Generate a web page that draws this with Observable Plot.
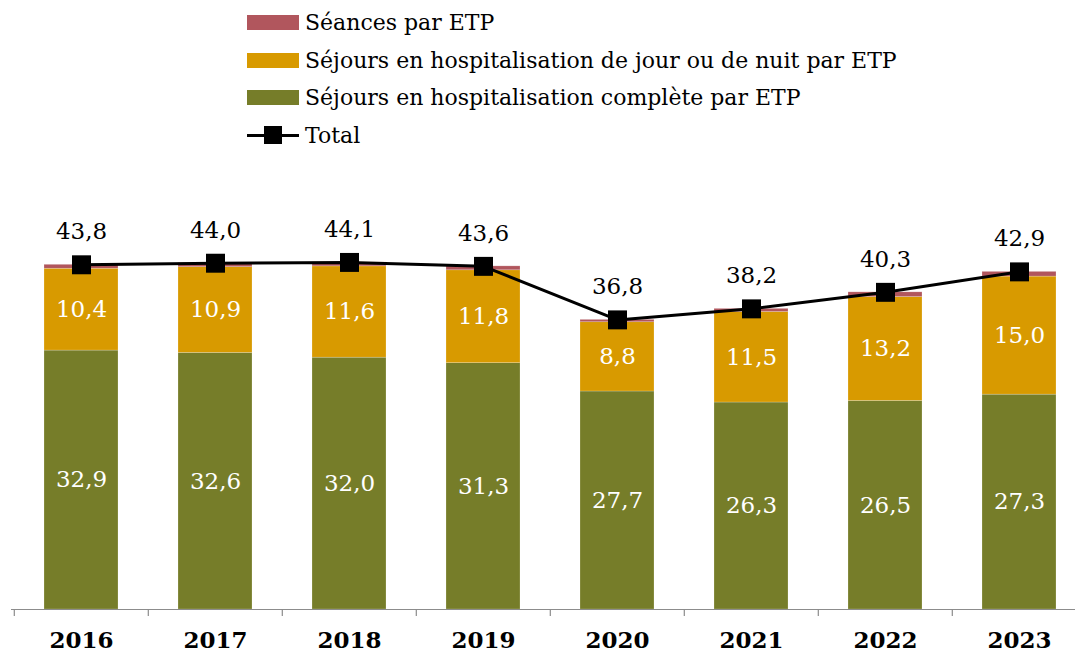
<!DOCTYPE html>
<html><head><meta charset="utf-8">
<script src="https://cdn.jsdelivr.net/npm/d3@7"></script>
<script src="https://cdn.jsdelivr.net/npm/@observablehq/plot@0.6"></script>
<style>
body{margin:0;background:#fff;}
#wrap{position:relative;width:1075px;height:655px;font-family:"DejaVu Serif",serif;overflow:hidden;}
#chart{position:absolute;left:0;top:0;}
#legend{position:absolute;left:247px;top:0;}
.item{position:absolute;left:0;height:30px;display:flex;align-items:center;white-space:nowrap;font-size:22px;color:#000;}
.sw{width:52px;height:15px;margin-right:6px;flex:none;}
.ln{width:52px;height:18px;margin-right:6px;flex:none;position:relative;}
.ln .l{position:absolute;left:0;right:0;top:7.5px;height:3px;background:#000;}
.ln .m{position:absolute;left:17px;top:0;width:18px;height:18px;background:#000;}
</style></head><body>
<div id="wrap"><div id="chart"></div><div id="legend"></div></div>
<script>
const years = ["2016","2017","2018","2019","2020","2021","2022","2023"];
const seances = [0.5,0.5,0.5,0.5,0.3,0.4,0.6,0.6];
const jourNuit = [10.4,10.9,11.6,11.8,8.8,11.5,13.2,15.0];
const complete = [32.9,32.6,32.0,31.3,27.7,26.3,26.5,27.3];
const total = [43.8,44.0,44.1,43.6,36.8,38.2,40.3,42.9];
const seriesNames = ["Séances par ETP","Séjours en hospitalisation de jour ou de nuit par ETP","Séjours en hospitalisation complète par ETP"];
const seriesColors = ["#B1565D","#D89A00","#767D29"];
const totalName = "Total";

const fmt = v => d3.format(".1f")(v).replace(".", ",");

// stacked data: bottom to top
const stacked = years.flatMap((y,i)=>[
  {year:y, series:seriesNames[2], value:complete[i]},
  {year:y, series:seriesNames[1], value:jourNuit[i]},
  {year:y, series:seriesNames[0], value:seances[i]}
]);
const segLabels = years.flatMap((y,i)=>[
  {year:y, mid:complete[i]/2, v:complete[i]},
  {year:y, mid:complete[i]+jourNuit[i]/2, v:jourNuit[i]}
]);
const totals = years.map((y,i)=>({year:y, total:total[i]}));

const W = 1075, H = 655;
const chart = Plot.plot({
  width: W, height: H,
  marginTop: 215.5, marginBottom: 46, marginLeft: 11, marginRight: -13,
  style: {fontFamily: '"DejaVu Serif", serif', background: "transparent", overflow: "visible"},
  x: {domain: years, paddingInner: 0.45, paddingOuter: 0.225, label: null},
  y: {domain: [0, 50], axis: null},
  color: {domain: seriesNames, range: seriesColors},
  marks: [
    Plot.barY(stacked, {x: "year", y: "value", fill: "series", order: null, stroke: "#fff", strokeOpacity: 0.35, strokeWidth: 0.6}),
    Plot.ruleY([0], {stroke: "#8c8c8c", strokeWidth: 1.2}),
    Plot.axisX({tickSize: 7, dx: -67.2, stroke: "#8c8c8c", strokeWidth: 1.2, text: null, label: null}),
    Plot.axisX({tickSize: 0, tickPadding: 22, fontSize: 23, fontWeight: "bold", fill: "#000", label: null}),
    Plot.text(segLabels, {x: "year", y: "mid", text: d => fmt(d.v), fill: "#fff", fontSize: 23}),
    Plot.line(totals, {x: "year", y: "total", stroke: "#000", strokeWidth: 3}),
    Plot.dot(totals, {x: "year", y: "total", symbol: "square", r: 10.7, fill: "#000", stroke: "none"}),
    Plot.text(totals, {x: "year", y: "total", text: d => fmt(d.total), dy: -33, fill: "#000", fontSize: 23})
  ]
});
document.getElementById("chart").appendChild(chart);

const legend = document.getElementById("legend");
const items = [
  {name: seriesNames[0], color: seriesColors[0]},
  {name: seriesNames[1], color: seriesColors[1]},
  {name: seriesNames[2], color: seriesColors[2]},
  {name: totalName, line: true}
];
const centers = [22, 60, 97, 135];
items.forEach((it, k) => {
  const div = document.createElement("div");
  div.className = "item";
  div.style.top = (centers[k] - 15) + "px";
  if (it.line) {
    div.innerHTML = '<div class="ln"><div class="l"></div><div class="m"></div></div>';
  } else {
    div.innerHTML = '<div class="sw" style="background:' + it.color + '"></div>';
  }
  const span = document.createElement("span");
  span.textContent = it.name;
  div.appendChild(span);
  legend.appendChild(div);
});
</script>
</body></html>
